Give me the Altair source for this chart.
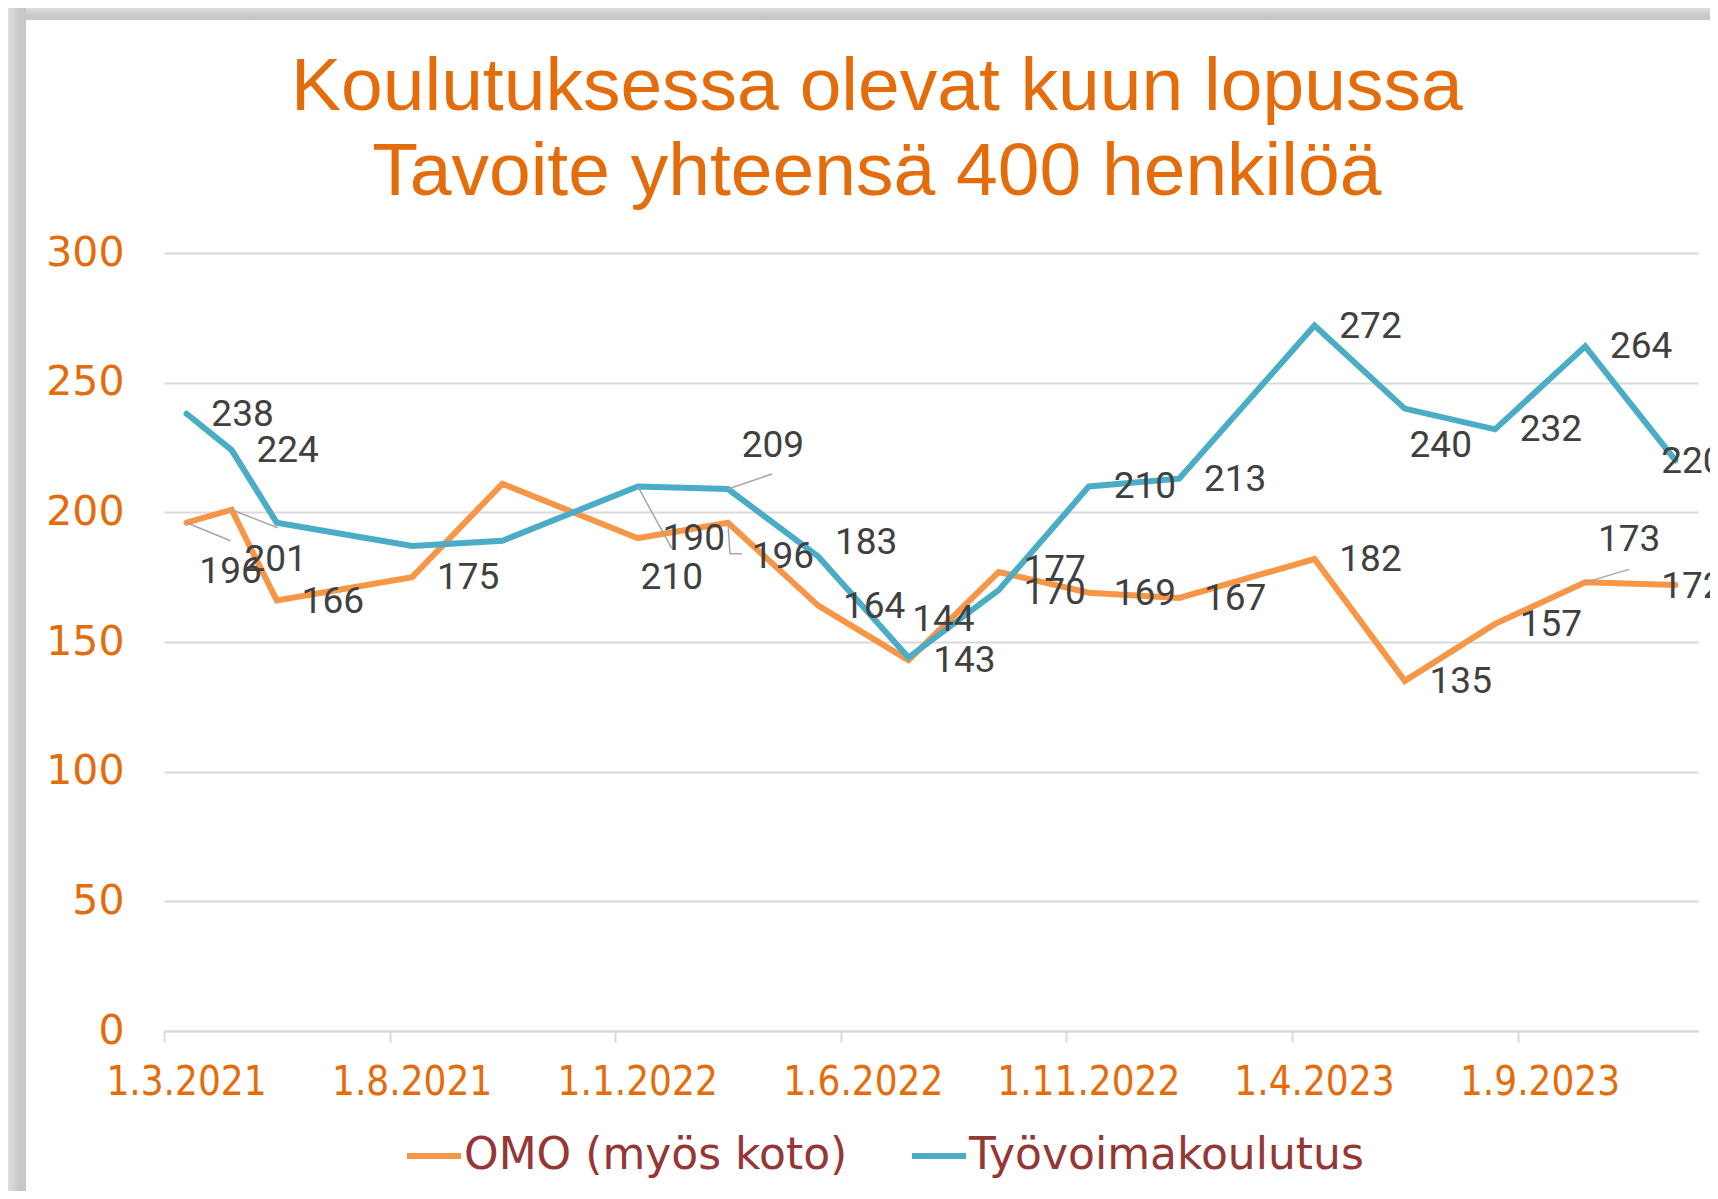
import altair as alt
import pandas as pd

# ---------------- data ----------------
months = ["2021-03", "2021-04", "2021-05", "2021-08", "2021-10", "2022-01",
          "2022-03", "2022-05", "2022-07", "2022-09", "2022-11", "2023-01",
          "2023-04", "2023-06", "2023-08", "2023-10", "2023-12"]
omo = [196, 201, 166, 175, 211, 190, 196, 164, 143, 177, 169, 167, 182, 135, 157, 173, 172]
tyo = [238, 224, 196, 187, 189, 210, 209, 183, 144, 170, 210, 213, 272, 240, 232, 264, 220]
series_names = ["OMO (myös koto)", "Työvoimakoulutus"]
series_colors = ["#F79646", "#4BACC6"]

# months that carry a data label
omo_labeled = ["2021-03", "2021-04", "2021-05", "2021-08", "2022-01", "2022-03", "2022-05",
               "2022-07", "2022-09", "2022-11", "2023-01", "2023-04", "2023-06", "2023-08",
               "2023-10", "2023-12"]
tyo_labeled = ["2021-03", "2021-04", "2022-01", "2022-03", "2022-05", "2022-07", "2022-09",
               "2022-11", "2023-01", "2023-04", "2023-06", "2023-08", "2023-10", "2023-12"]

x_tick_values = [0, 5, 10, 15, 20, 25, 30]      # months after 1.3.2021
y_tick_values = [0, 50, 100, 150, 200, 250, 300]
title_lines = ["Koulutuksessa olevat kuun lopussa", "Tavoite yhteensä 400 henkilöä"]

# ---------------- layout / style ----------------
W, H = 1534, 778
PAD = {"left": 156, "top": 245, "right": 12, "bottom": 160}
N_MONTHS = 34
PXM = W / N_MONTHS
PXV = H / 300

ORANGE_TXT = "#E46C0A"

DEFAULT_OFF = (56, 1)
label_offsets = {
    "OMO (myös koto)": {"2021-03": (44, 49), "2021-04": (44, 50), "2022-03": (55, 34),
                        "2022-09": (56, -2), "2023-10": (44, -42), "2023-12": (17, 2)},
    "Työvoimakoulutus": {"2022-01": (34, 92), "2022-03": (45, -43), "2022-05": (48, -13),
                         "2022-07": (35, -38), "2022-09": (56, 3), "2023-06": (36, 37),
                         "2023-12": (17, 2)},
}
# leader lines: series, month, start offset, end offset (pixels)
leaders = [
    ("OMO (myös koto)", "2021-03", (0, 0), (44, 18)),
    ("OMO (myös koto)", "2021-04", (0, 0), (46, 18)),
    ("Työvoimakoulutus", "2022-01", (0, 0), (34, 62)),
    ("Työvoimakoulutus", "2022-03", (0, 0), (44, -15)),
    ("OMO (myös koto)", "2022-03", (0, 0), (2, 31)),
    ("OMO (myös koto)", "2022-03", (2, 31), (14, 31)),
    ("OMO (myös koto)", "2023-10", (0, 0), (44, -13)),
]


def month_pos(s):
    y, m = int(s[:4]), int(s[5:7])
    return (y - 2021) * 12 + (m - 3) + 0.5


rows = []
for name, vals in zip(series_names, [omo, tyo]):
    for mo, v in zip(months, vals):
        rows.append({"series": name, "month": mo, "m": month_pos(mo), "v": v})
df = pd.DataFrame(rows)

lab_rows = []
for name, vals, labeled in zip(series_names, [omo, tyo], [omo_labeled, tyo_labeled]):
    for mo, v in zip(months, vals):
        if mo in labeled:
            dx, dy = label_offsets[name].get(mo, DEFAULT_OFF)
            lab_rows.append({"series": name, "m": month_pos(mo), "v": v, "dx": dx, "dy": dy,
                             "txt": str(v)})
df_lab = pd.DataFrame(lab_rows)

val_lookup = {(n, mo): v for n, vals in zip(series_names, [omo, tyo]) for mo, v in zip(months, vals)}
lead_rows = []
for name, mo, (sx, sy), (ex, ey) in leaders:
    m0 = month_pos(mo)
    v0 = val_lookup[(name, mo)]
    lead_rows.append({"m": m0 + sx / PXM, "v": v0 - sy / PXV,
                      "m2": m0 + ex / PXM, "v2": v0 - ey / PXV})
df_lead = pd.DataFrame(lead_rows)

label_expr = ("'1.' + (((2 + datum.value) % 12) + 1) + '.' + "
              "(2021 + floor((2 + datum.value) / 12))")

x_enc = alt.X("m:Q",
              scale=alt.Scale(domain=[0, N_MONTHS], nice=False, zero=False),
              axis=alt.Axis(values=x_tick_values, labelExpr=label_expr, labelOffset=22,
                            labelFlush=False, labelOverlap=False, labelLimit=0, tickSize=11,
                            tickColor="#d9d9d9", tickWidth=2, domainColor="#d9d9d9",
                            domainWidth=2, grid=False, labelFont="DejaVu Sans Condensed",
                            labelFontSize=40, labelColor=ORANGE_TXT, labelPadding=20,
                            title=None))
y_enc = alt.Y("v:Q",
              scale=alt.Scale(domain=[0, 300], nice=False, zero=True),
              axis=alt.Axis(values=y_tick_values, grid=True, gridColor="#d9d9d9",
                            gridWidth=2, domain=False, ticks=False, labelPadding=40,
                            labelFont="DejaVu Sans", labelFontSize=41, labelColor=ORANGE_TXT,
                            title=None))

# frame shadow (decoration)
shadow_left = alt.Chart(alt.Data(values=[{"s": 1}])).mark_rect(
    fill=alt.Gradient(gradient="linear", x1=0, x2=1, y1=0, y2=0,
                      stops=[alt.GradientStop(offset=0, color="#dedede"),
                             alt.GradientStop(offset=0.6, color="#c9c9c9"),
                             alt.GradientStop(offset=1, color="#c6c6c6")])
).encode(x=alt.value(-PAD["left"]), x2=alt.value(-PAD["left"] + 18),
         y=alt.value(-PAD["top"]), y2=alt.value(H + PAD["bottom"]))
shadow_top = alt.Chart(alt.Data(values=[{"s": 1}])).mark_rect(
    fill=alt.Gradient(gradient="linear", x1=0, x2=0, y1=0, y2=1,
                      stops=[alt.GradientStop(offset=0, color="#dedede"),
                             alt.GradientStop(offset=0.6, color="#c9c9c9"),
                             alt.GradientStop(offset=1, color="#c6c6c6")])
).encode(x=alt.value(-PAD["left"] + 18), x2=alt.value(W + PAD["right"]),
         y=alt.value(-PAD["top"]), y2=alt.value(-PAD["top"] + 12))

lines = alt.Chart(df).mark_line(strokeWidth=6, strokeCap="round").encode(
    x=x_enc, y=y_enc,
    color=alt.Color("series:N",
                    scale=alt.Scale(domain=series_names, range=series_colors),
                    legend=alt.Legend(orient="none", legendX=240, legendY=873,
                                      direction="horizontal", title=None,
                                      symbolType="stroke", symbolSize=2916,
                                      symbolStrokeWidth=6, labelFont="DejaVu Sans",
                                      labelFontSize=44, labelColor="#953735",
                                      labelOffset=0, columnPadding=52, labelLimit=0)),
    order=alt.Order("m:Q"),
)

lead = alt.Chart(df_lead).mark_rule(color="#a6a6a6", strokeWidth=1.5).encode(
    x="m:Q", y="v:Q", x2="m2:Q", y2="v2:Q")

labels = alt.Chart(df_lab).mark_text(
    font="Roboto", fontSize=37, color="#404040", align="center", baseline="middle",
    dx=alt.expr("datum.dx"), dy=alt.expr("datum.dy")
).encode(x="m:Q", y="v:Q", text="txt:N")

chart = alt.layer(shadow_left, shadow_top, lines, lead, labels).properties(
    width=W, height=H,
    padding=PAD,
    autosize=alt.AutoSizeParams(type="none"),
    background="white",
    title=alt.TitleParams(text=title_lines, font="Liberation Sans", fontSize=75,
                          fontWeight="normal", color=ORANGE_TXT, lineHeight=85,
                          anchor="middle", frame="bounds", dx=11, dy=207),
).configure_view(stroke=None)

chart.save("out.html", embed_options={"renderer": "svg", "actions": False})
